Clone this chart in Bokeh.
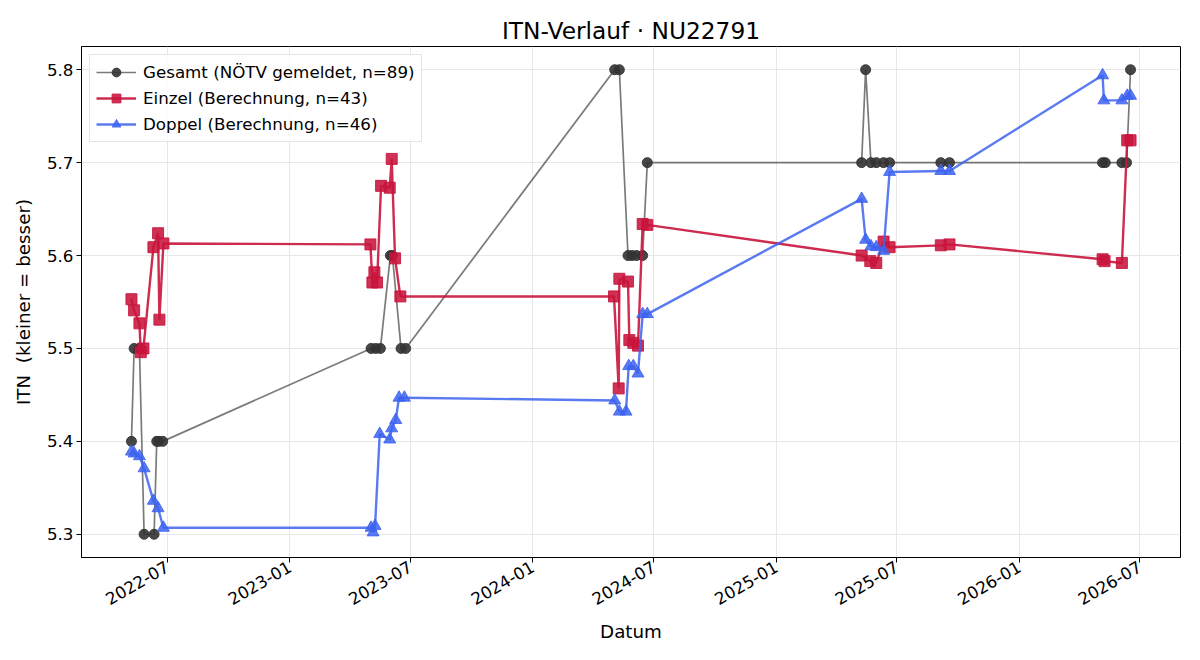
import math
from datetime import datetime

from bokeh.plotting import figure
from bokeh.models import Range1d, FixedTicker, DatetimeTickFormatter, PrintfTickFormatter
from bokeh.embed import file_html
from bokeh.resources import INLINE


def d(s):
    return datetime.strptime(s, "%Y-%m-%d")


# --- Gesamt (NÖTV gemeldet) ---
gesamt_dates = [
    "2022-05-08", "2022-05-12", "2022-05-20", "2022-05-27", "2022-06-11", "2022-06-15",
    "2022-06-18", "2022-06-24",
    "2023-05-03", "2023-05-10", "2023-05-17", "2023-06-01", "2023-06-04", "2023-06-17",
    "2023-06-24",
    "2024-05-03", "2024-05-10", "2024-05-23", "2024-05-29", "2024-06-05", "2024-06-14",
    "2024-06-21",
    "2025-05-09", "2025-05-15", "2025-05-23", "2025-05-31", "2025-06-11", "2025-06-20",
    "2025-09-05", "2025-09-18",
    "2026-05-06", "2026-05-10", "2026-06-04", "2026-06-11", "2026-06-17",
]
gesamt_itn = [
    5.4, 5.5, 5.5, 5.3, 5.3, 5.4, 5.4, 5.4,
    5.5, 5.5, 5.5, 5.6, 5.6, 5.5, 5.5,
    5.8, 5.8, 5.6, 5.6, 5.6, 5.6, 5.7,
    5.7, 5.8, 5.7, 5.7, 5.7, 5.7, 5.7, 5.7,
    5.7, 5.7, 5.7, 5.7, 5.8,
]

# --- Einzel (Berechnung) ---
einzel_dates = [
    "2022-05-08", "2022-05-12", "2022-05-20", "2022-05-22", "2022-05-26", "2022-06-10",
    "2022-06-17", "2022-06-19", "2022-06-25",
    "2023-05-02", "2023-05-05", "2023-05-08", "2023-05-12", "2023-05-18", "2023-05-31",
    "2023-06-03", "2023-06-08", "2023-06-16",
    "2024-05-02", "2024-05-09", "2024-05-10", "2024-05-23", "2024-05-25", "2024-05-31",
    "2024-06-07", "2024-06-14", "2024-06-21",
    "2025-05-09", "2025-05-22", "2025-05-31", "2025-06-11", "2025-06-20", "2025-09-05",
    "2025-09-18",
    "2026-05-06", "2026-05-09", "2026-06-04", "2026-06-12", "2026-06-17",
]
einzel_itn = [
    5.553, 5.541, 5.527, 5.496, 5.500, 5.609, 5.624, 5.531, 5.613,
    5.612, 5.571, 5.582, 5.571, 5.675, 5.673, 5.704, 5.597, 5.556,
    5.556, 5.457, 5.575, 5.572, 5.509, 5.506, 5.503, 5.634, 5.633,
    5.600, 5.594, 5.592, 5.615, 5.609, 5.611, 5.612,
    5.596, 5.594, 5.592, 5.724, 5.724,
]

# --- Doppel (Berechnung) ---
doppel_dates = [
    "2022-05-08", "2022-05-12", "2022-05-20", "2022-05-27", "2022-06-10", "2022-06-17",
    "2022-06-25",
    "2023-05-03", "2023-05-06", "2023-05-09", "2023-05-16", "2023-05-31", "2023-06-03",
    "2023-06-09", "2023-06-14", "2023-06-22",
    "2024-05-03", "2024-05-10", "2024-05-20", "2024-05-24", "2024-05-31", "2024-06-07",
    "2024-06-14", "2024-06-21",
    "2025-05-09", "2025-05-15", "2025-05-23", "2025-05-31", "2025-06-11", "2025-06-20",
    "2025-09-05", "2025-09-18",
    "2026-05-06", "2026-05-08", "2026-06-04", "2026-06-12", "2026-06-17",
]
doppel_itn = [
    5.389, 5.387, 5.384, 5.371, 5.336, 5.328, 5.307,
    5.307, 5.302, 5.309, 5.408, 5.402, 5.414, 5.423, 5.447, 5.447,
    5.444, 5.432, 5.432, 5.481, 5.481, 5.473, 5.537, 5.537,
    5.661, 5.617, 5.610, 5.609, 5.605, 5.690, 5.691, 5.691,
    5.794, 5.767, 5.767, 5.772, 5.772,
]

tick_dates = ["2022-07-01", "2023-01-01", "2023-07-01", "2024-01-01", "2024-07-01",
              "2025-01-01", "2025-07-01", "2026-01-01", "2026-07-01"]
y_ticks = [5.3, 5.4, 5.5, 5.6, 5.7, 5.8]

series = [
    ("Gesamt (NÖTV gemeldet, n=89)", gesamt_dates, gesamt_itn, "#333333", 0.65, 0.9, "circle", 10, 1.7),
    ("Einzel (Berechnung, n=43)", einzel_dates, einzel_itn, "#C8143C", 0.9, 0.88, "square", 11, 2.4),
    ("Doppel (Berechnung, n=46)", doppel_dates, doppel_itn, "#3D63F0", 0.85, 0.85, "triangle", 12, 2.4),
]

EPOCH = datetime(1970, 1, 1)


def ms(dt):
    return (dt - EPOCH).total_seconds() * 1000.0


all_x = [ms(d(s)) for _, ds, *_ in series for s in ds]
all_y = [v for _, _, vs, *_ in series for v in vs]
x_span = max(all_x) - min(all_x)
y_span = max(all_y) - min(all_y)

FONT = "DejaVu Sans"
TICK_SIZE = "16.7px"
LABEL_SIZE = "18.3px"

p = figure(
    width=1200, height=660,
    x_axis_type="datetime",
    x_range=Range1d(min(all_x) - 0.05 * x_span, max(all_x) + 0.05 * x_span),
    y_range=Range1d(min(all_y) - 0.05 * y_span, max(all_y) + 0.05 * y_span),
    output_backend="svg", toolbar_location=None,
    min_border_left=81, min_border_right=20, min_border_top=46, min_border_bottom=103,
    title="ITN-Verlauf · NU22791",
)
p.background_fill_color = "white"
p.border_fill_color = "white"
p.outline_line_color = "black"
p.outline_line_width = 1

p.title.align = "center"
p.title.text_font = FONT
p.title.text_font_size = "23.3px"
p.title.text_font_style = "normal"
p.title.text_color = "black"
p.title.standoff = 6

for name, ds, vs, color, lalpha, malpha, marker, size, lw in series:
    xs = [d(s) for s in ds]
    p.line(xs, vs, line_color=color, line_alpha=lalpha, line_width=lw, legend_label=name)
    p.scatter(xs, vs, marker=marker, size=size, fill_color=color, line_color=color,
              fill_alpha=malpha, line_alpha=malpha, legend_label=name)

# axes
xticks = [ms(d(s)) for s in tick_dates]
p.xaxis.ticker = FixedTicker(ticks=xticks)
p.xaxis.formatter = DatetimeTickFormatter(
    years="%Y-%m", months="%Y-%m", days="%Y-%m", hours="%Y-%m", minutes="%Y-%m",
    seconds="%Y-%m", milliseconds="%Y-%m", microseconds="%Y-%m", hourmin="%Y-%m", minsec="%Y-%m",
)
p.xaxis.major_label_orientation = math.pi / 6
p.yaxis.ticker = FixedTicker(ticks=y_ticks)
p.yaxis.formatter = PrintfTickFormatter(format="%.1f")

for ax in (p.xaxis, p.yaxis):
    ax.axis_line_color = "black"
    ax.major_tick_line_color = "black"
    ax.major_tick_out = 5
    ax.major_tick_in = 0
    ax.minor_tick_line_color = None
    ax.major_label_text_font = FONT
    ax.major_label_text_font_size = TICK_SIZE
    ax.major_label_text_color = "black"
    ax.axis_label_text_font = FONT
    ax.axis_label_text_font_size = LABEL_SIZE
    ax.axis_label_text_font_style = "normal"
    ax.axis_label_text_color = "black"
    ax.major_label_standoff = 3

p.xaxis.axis_label = "Datum"
p.yaxis.axis_label = "ITN\u00a0 (kleiner = besser)"
p.xaxis.axis_label_standoff = 7
p.yaxis.axis_label_standoff = 10

p.xgrid.ticker = FixedTicker(ticks=xticks)
p.ygrid.ticker = FixedTicker(ticks=y_ticks)
for g in (p.xgrid, p.ygrid):
    g.grid_line_color = "#e7e7e7"
    g.grid_line_width = 1

lg = p.legend[0]
lg.location = "top_left"
lg.margin = 8
lg.padding = 6
lg.spacing = 4
lg.label_height = 22
lg.glyph_height = 22
lg.glyph_width = 40
lg.label_standoff = 7
lg.label_text_font = FONT
lg.label_text_font_size = TICK_SIZE
lg.label_text_color = "black"
lg.border_line_color = "#cccccc"
lg.border_line_width = 1
lg.background_fill_alpha = 0.85

with open("out.html", "w") as f:
    f.write(file_html(p, INLINE))
